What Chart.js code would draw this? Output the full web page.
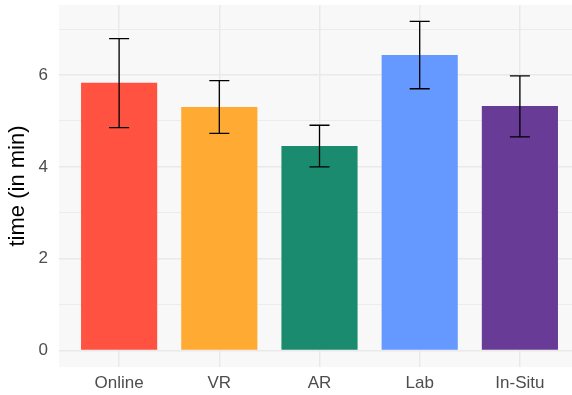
<!DOCTYPE html>
<html>
<head>
<meta charset="utf-8">
<script src="https://cdn.jsdelivr.net/npm/chart.js@4/dist/chart.umd.min.js"></script>
<style>
  html, body { margin: 0; padding: 0; background: #ffffff; }
  #wrap { width: 572px; height: 395px; position: relative; }
</style>
</head>
<body>
<div id="wrap"><canvas id="chart" width="572" height="395"></canvas></div>
<script>
// Mean completion time per condition, with error bar bounds (minutes)
const categories = ['Online', 'VR', 'AR', 'Lab', 'In-Situ'];
const meanTime = [5.83, 5.30, 4.455, 6.435, 5.325];
const errLower = [4.855, 4.73, 4.0, 5.70, 4.65];
const errUpper = [6.79, 5.875, 4.905, 7.165, 5.98];
const barColors = ['#FF5240', '#FFAA33', '#1B8B6F', '#6699FF', '#673B96'];
const yTicks = [0, 1, 2, 3, 4, 5, 6, 7];

// Light grey panel behind the plotting area
const panelBackground = {
  id: 'panelBackground',
  beforeDraw(chart) {
    const { ctx, chartArea: a } = chart;
    ctx.save();
    ctx.fillStyle = '#f8f8f8';
    ctx.fillRect(a.left, a.top, a.right - a.left, a.bottom - a.top);
    ctx.restore();
  }
};

// Error bars with short horizontal caps
const errorBars = {
  id: 'errorBars',
  afterDatasetsDraw(chart) {
    const { ctx, scales: { x, y } } = chart;
    ctx.save();
    ctx.strokeStyle = '#000000';
    ctx.lineWidth = 1.3;
    categories.forEach((_, i) => {
      const cx = x.getPixelForValue(i);
      const x0 = x.getPixelForValue(i - 0.1);
      const x1 = x.getPixelForValue(i + 0.1);
      const yl = y.getPixelForValue(errLower[i]);
      const yu = y.getPixelForValue(errUpper[i]);
      ctx.beginPath();
      ctx.moveTo(cx, yl); ctx.lineTo(cx, yu);
      ctx.moveTo(x0, yu); ctx.lineTo(x1, yu);
      ctx.moveTo(x0, yl); ctx.lineTo(x1, yl);
      ctx.stroke();
    });
    ctx.restore();
  }
};

const yMaxData = Math.max(...errUpper);
const yPad = yMaxData * 0.05;

const noEdgePadding = (axis) => {
  axis.paddingTop = 0; axis.paddingBottom = 0;
  axis.paddingLeft = 0; axis.paddingRight = 0;
};

new Chart(document.getElementById('chart'), {
  type: 'bar',
  data: {
    datasets: [{
      data: meanTime.map((v, i) => ({ x: i, y: v })),
      backgroundColor: barColors,
      borderWidth: 0,
      barPercentage: 0.76,
      categoryPercentage: 1.0
    }]
  },
  options: {
    responsive: false,
    animation: false,
    devicePixelRatio: 1,
    layout: { padding: { top: 5, right: 0, left: 0, bottom: 0 } },
    plugins: { legend: { display: false }, tooltip: { enabled: false } },
    scales: {
      x: {
        type: 'linear',
        offset: false,
        min: -0.6,
        max: 4.52,
        afterBuildTicks(axis) { axis.ticks = categories.map((_, i) => ({ value: i })); },
        afterFit(axis) { axis.height = 28; noEdgePadding(axis); },
        grid: { color: '#e9e9e9', lineWidth: 1.5, drawTicks: false, offset: false },
        border: { display: false },
        ticks: {
          callback: (v) => categories[v],
          color: '#4d4d4d',
          font: { family: 'Liberation Sans, Arial, sans-serif', size: 17 },
          padding: 6,
          maxRotation: 0,
          autoSkip: false
        }
      },
      y: {
        min: -yPad,
        max: yMaxData + yPad,
        afterBuildTicks(axis) { axis.ticks = yTicks.map(v => ({ value: v })); },
        afterFit(axis) { axis.width = 59; noEdgePadding(axis); },
        grid: {
          color: '#e9e9e9',
          lineWidth: (c) => (c.tick && c.tick.value % 2 === 0 ? 1.5 : 0.8),
          drawTicks: false
        },
        border: { display: false },
        ticks: {
          callback: (v) => (v % 2 === 0 ? String(v) : ''),
          color: '#4d4d4d',
          font: { family: 'Liberation Sans, Arial, sans-serif', size: 17 },
          padding: 11
        },
        title: {
          display: true,
          text: 'time (in min)',
          color: '#000000',
          font: { family: 'Liberation Sans, Arial, sans-serif', size: 22, weight: 'normal' },
          padding: { top: 5, bottom: 0 }
        }
      }
    }
  },
  plugins: [panelBackground, errorBars]
});
</script>
</body>
</html>
